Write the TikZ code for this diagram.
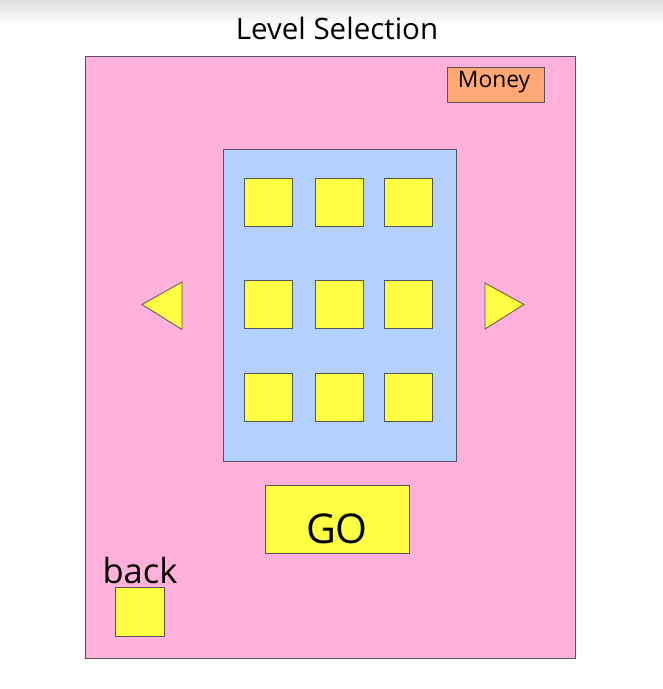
\documentclass[tikz,border=0pt]{standalone}
\usepackage{fontspec}
\setmainfont{Open Sans}
\definecolor{pinkbg}{HTML}{FFB0DB}
\definecolor{bluebg}{HTML}{B3D0FF}
\definecolor{yel}{HTML}{FFFF44}
\definecolor{orng}{HTML}{FFA775}
\definecolor{edge}{HTML}{555555}
\begin{document}
\begin{tikzpicture}[x=1pt,y=-1pt,
  box/.style={draw=edge,line width=0.8pt},
  lvl/.style={box,fill=yel,minimum width=48pt,minimum height=48pt,inner sep=0pt},
  txt/.style={inner sep=0pt,text=black,anchor=base}]
\useasboundingbox (0,0) rectangle (663,689);
\fill[white] (0,0) rectangle (663,689);
\shade[top color=black!13,bottom color=white] (0,0) rectangle (663,24);
\node[txt,font=\fontsize{29.5}{34}\selectfont] (title) at (337,39.3) {Level Selection};
\draw[box,fill=pinkbg] (85,56) rectangle (575,658);
\node[box,fill=orng,minimum width=97pt,minimum height=35pt,inner sep=0pt,anchor=north west] (money) at (447,67) {};
\node[txt,font=\fontsize{22.8}{26}\selectfont] (moneytxt) at (494,87.3) {Money};
\draw[box,fill=bluebg] (223,149) rectangle (456,461);
\foreach \c/\x in {1/268,2/339,3/408}{
  \foreach \r/\y in {1/202.5,2/304.5,3/397.5}{
    \node[lvl] (l\r\c) at (\x,\y) {};
  }
}
\draw[box,fill=yel] (182,282) -- (142,304.5) -- (182,329.5) -- cycle;
\draw[box,fill=yel] (485,283) -- (524,304.5) -- (485,329) -- cycle;
\node[box,fill=yel,minimum width=144pt,minimum height=68pt,inner sep=0pt] (go) at (337,519) {};
\node[txt,font=\fontsize{41}{48}\selectfont] (gotxt) at (337,543.3) {GO};
\node[txt,font=\fontsize{34.5}{40}\selectfont] (back) at (140,583.5) {back};
\node[box,fill=yel,minimum width=49pt,minimum height=49pt,inner sep=0pt] (backbtn) at (140,611.5) {};
\end{tikzpicture}
\end{document}
